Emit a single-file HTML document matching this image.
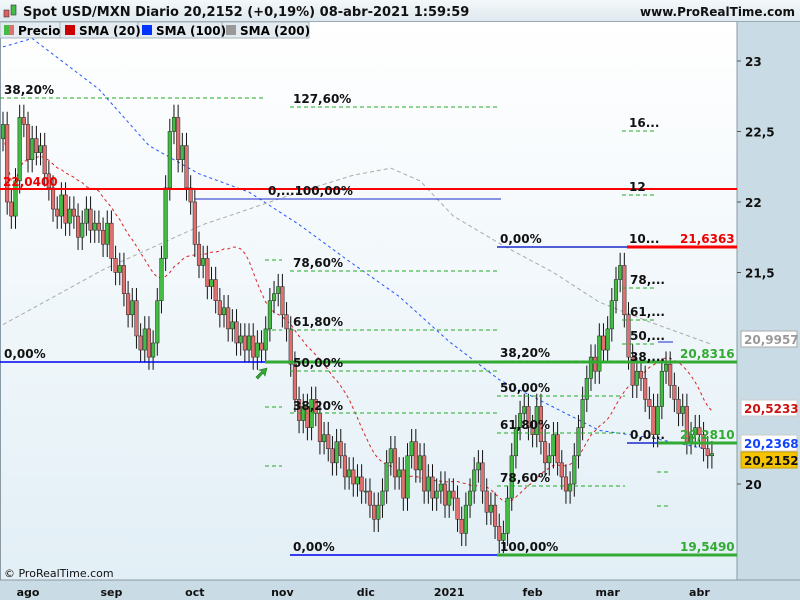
<!DOCTYPE html>
<html><head><meta charset="utf-8"><style>
body{margin:0;width:800px;height:600px;overflow:hidden;font-family:"DejaVu Sans","Liberation Sans",sans-serif;background:#fff}
svg{display:block}
text{font-family:"DejaVu Sans","Liberation Sans",sans-serif}
</style></head><body>
<svg id="chart" width="800" height="600" xmlns="http://www.w3.org/2000/svg">
<defs>
<linearGradient id="bg" x1="0" y1="0" x2="0" y2="1"><stop offset="0" stop-color="#ffffff"/><stop offset="1" stop-color="#e2eff6"/></linearGradient>
<linearGradient id="tb" x1="0" y1="0" x2="0" y2="1"><stop offset="0" stop-color="#f4f8fa"/><stop offset="1" stop-color="#dde8ee"/></linearGradient>
</defs>
<rect x="0" y="22" width="737" height="558" fill="url(#bg)"/>
<rect x="737" y="22" width="63" height="578" fill="#c9dbe4"/>
<rect x="0" y="580" width="800" height="20" fill="#c9dbe4"/>
<line x1="737" y1="22" x2="737" y2="580" stroke="#8a9aa4"/>
<line x1="0" y1="580" x2="800" y2="580" stroke="#8a9aa4"/>
<line x1="0.5" y1="22" x2="0.5" y2="580" stroke="#8a9aa4"/>
<g id="sma"></g>
<g id="candles"></g>
<g id="fib"></g>
<g id="axis"></g>
<rect x="0" y="0" width="800" height="22" fill="url(#tb)"/>
<line x1="0" y1="21.5" x2="800" y2="21.5" stroke="#9aaab4"/>
<g><rect x="4" y="10" width="5" height="7" fill="#e06060" stroke="#333" stroke-width="0.6"/><rect x="11" y="5" width="5" height="10" fill="#44bb44" stroke="#333" stroke-width="0.6"/></g>
<text x="23" y="16" font-size="13" font-weight="bold" fill="#111">Spot USD/MXN Diario 20,2152 (+0,19%) 08-abr-2021 1:59:59</text>
<text x="795" y="16" font-size="12" font-weight="bold" fill="#111" text-anchor="end">www.ProRealTime.com</text>
<g>
<rect x="0" y="22" width="309" height="16" fill="#e3ebf0" stroke="#a8b6be"/>
<line x1="60" y1="22" x2="60" y2="38" stroke="#a8b6be"/><line x1="138" y1="22" x2="138" y2="38" stroke="#a8b6be"/><line x1="222" y1="22" x2="222" y2="38" stroke="#a8b6be"/>
<g><rect x="4" y="25" width="5" height="10" fill="#44bb44"/><rect x="9" y="25" width="5" height="10" fill="#e07070"/><text x="18" y="35" font-size="12" font-weight="bold">Precio</text></g>
<g><rect x="65" y="25" width="10" height="10" fill="#cc0000"/><text x="79" y="35" font-size="12" font-weight="bold">SMA (20)</text></g>
<g><rect x="142" y="25" width="10" height="10" fill="#0033ff"/><text x="156" y="35" font-size="12" font-weight="bold">SMA (100)</text></g>
<g><rect x="226" y="25" width="10" height="10" fill="#999"/><text x="240" y="35" font-size="12" font-weight="bold">SMA (200)</text></g>
</g>
<text x="4" y="577" font-size="11" fill="#111">© ProRealTime.com</text>
</svg>
<script>
const closes=[
22.55,22.0,21.9,22.15,22.6,22.55,22.3,22.45,22.35,22.4,22.2,22.1,21.95,21.9,22.05,21.85,21.95,21.9,21.75,21.85,21.95,21.8,21.85,
21.8,21.7,21.85,21.6,21.5,21.55,21.35,21.2,21.3,21.05,20.95,21.1,20.9,21.0,21.3,21.6,22.1,22.5,22.6,22.3,22.4,22.1,
22.0,21.7,21.55,21.6,21.4,21.45,21.3,21.2,21.25,21.1,21.15,21.0,21.05,20.95,21.05,20.9,21.0,20.95,21.1,21.3,21.35,
21.4,21.2,21.1,20.85,20.6,20.45,20.55,20.4,20.6,20.5,20.3,20.35,20.25,20.15,20.3,20.2,20.05,20.1,20.0,20.05,19.95,19.95,
19.85,19.75,19.85,19.95,20.15,20.25,20.05,20.1,19.9,20.2,20.3,20.1,20.2,19.95,20.05,19.9,19.95,20.0,19.85,19.95,
19.9,19.75,19.65,19.85,19.95,20.1,20.15,19.95,19.8,19.85,19.7,19.6,19.65,19.9,20.2,20.4,20.5,
20.55,20.4,20.35,20.55,20.3,20.15,20.2,20.35,20.15,20.05,19.95,20.0,20.2,20.4,20.6,20.75,20.9,20.8,21.05,20.95,
21.1,21.3,21.45,21.55,21.2,20.9,20.7,20.8,20.75,20.6,20.55,20.35,20.55,20.8,20.85,20.7,20.6,20.5,20.55,20.3,20.35,
20.4,20.35,20.25,20.2,20.2152];
const sma100Idx=[0,7,23,35,47,59,71,83,95,107,119,131,143,155,170];
const sma100Val=[23.1,23.16,22.8,22.4,22.2,22.07,21.84,21.58,21.33,21.01,20.74,20.56,20.38,20.33,20.24];
const sma200Idx=[0,24,48,72,84,93,100,108,120,132,143,155,170];
const sma200Val=[21.13,21.52,21.84,22.08,22.19,22.24,22.15,21.9,21.69,21.5,21.29,21.15,20.99];
const priceTicks=[20,21.5,22,22.5,23];
const priceTickLabels=["20","21,5","22","22,5","23"];
const months=["ago","sep","oct","nov","dic","2021","feb","mar","abr"];
const monthIdx=[6,26,46,67,87,107,127,145,167];

const X=i=>3+i*4.17;
const Y=v=>484-(v-20)*141;
const NS="http://www.w3.org/2000/svg";
function mk(tag,attrs,parent,txt){const e=document.createElementNS(NS,tag);for(const k in attrs)e.setAttribute(k,attrs[k]);if(txt!==undefined)e.textContent=txt;parent.appendChild(e);return e;}
const gS=document.getElementById('sma'),gC=document.getElementById('candles'),gF=document.getElementById('fib'),gA=document.getElementById('axis');

let p20=[];
for(let i=0;i<closes.length;i++){const s=Math.max(0,i-19);let t=0;for(let j=s;j<=i;j++)t+=closes[j];p20.push(X(i).toFixed(1)+','+Y(t/(i-s+1)).toFixed(1));}
const l20=mk('polyline',{points:p20.join(' '),fill:'none',stroke:'#dd2222','stroke-width':1,'stroke-dasharray':'3,3'},gS);


const l100=mk('polyline',{points:sma100Idx.map((d,k)=>X(d)+','+Y(sma100Val[k])).join(' '),fill:'none',stroke:'#2255ff','stroke-width':1,'stroke-dasharray':'3,3'},gS);


const l200=mk('polyline',{points:sma200Idx.map((d,k)=>X(d)+','+Y(sma200Val[k])).join(' '),fill:'none',stroke:'#aaaaaa','stroke-width':1,'stroke-dasharray':'4,3'},gS);



for(let i=0;i<closes.length;i++){
  const o=i?closes[i-1]:22.45,c=closes[i];
  const hi=Math.max(o,c)+0.09,lo=Math.min(o,c)-0.09;
  const x=X(i);
  const g=mk('g',{},gC);
  
  
  mk('line',{x1:x,x2:x,y1:Y(hi),y2:Y(lo),stroke:'#111','stroke-width':1},g);
  const top=Y(Math.max(o,c)),h=Math.max(1,Y(Math.min(o,c))-top);
  mk('rect',{x:x-1.8,y:top,width:3.6,height:h,fill:c>=o?'#44bb44':'#e07070',stroke:'#222','stroke-width':0.5},g);
}

function hl(x1,x2,y,col,w,dash,name){const l=mk('line',{x1,x2,y1:y,y2:y,stroke:col,'stroke-width':w},gF);if(dash)l.setAttribute('stroke-dasharray',dash);}
function tx(x,y,s,col,name){const t=mk('text',{x,y,'font-size':12,'font-weight':'bold',fill:col},gF,s);}
const G='#22aa22',GD='4,3';
hl(0,265,98,G,1,GD,'fib-382-a');tx(4,94,'38,20%','#111','fib-label');
hl(290,500,107,G,1,GD,'fib-1276');tx(293,103,'127,60%','#111','fib-label');
hl(0,737,189,'#ff0000',2,null,'level-22-04');tx(3,186,'22,0400','#ee0000','level-label');
hl(195,501,199,'#1a2acc',1,null,'fib-100');tx(268,195,'0,...100,00%','#111','fib-label');
hl(290,500,271,G,1,GD,'fib-786');tx(293,267,'78,60%','#111','fib-label');
hl(290,500,330,G,1,GD,'fib-618');tx(293,326,'61,80%','#111','fib-label');
hl(0,265,362,'#0000ee',1.5,null,'fib-0-a');tx(4,358,'0,00%','#111','fib-label');
hl(265,737,362,'#33aa33',3,null,'level-20-83');tx(680,358,'20,8316','#33aa33','level-label');
hl(290,500,371,G,1,GD,'fib-50');tx(293,367,'50,00%','#111','fib-label');
hl(290,500,413,G,1,GD,'fib-382-b');tx(293,410,'38,20%','#111','fib-label');
[260,330,407,466].forEach(y=>hl(265,282,y,G,1,GD,'fib-tick'));
hl(290,497,555,'#0000ee',1.5,null,'fib-0-b');tx(293,551,'0,00%','#111','fib-label');
hl(497,737,555,'#33aa33',3,null,'level-19-55');tx(680,551,'19,5490','#33aa33','level-label');tx(500,551,'100,00%','#111','fib-label');
hl(497,627,247,'#1a2acc',1.5,null,'fib-0-c');tx(500,243,'0,00%','#111','fib-label');
hl(627,737,247,'#ff0000',3,null,'level-21-63');tx(680,243,'21,6363','#ee0000','level-label');tx(629,243,'10...','#111','fib-label');
hl(497,625,361,G,1,GD,'fib-382-c');tx(500,357,'38,20%','#111','fib-label');
hl(497,625,396,G,1,GD,'fib-50-c');tx(500,392,'50,00%','#111','fib-label');
hl(497,625,433,G,1,GD,'fib-618-c');tx(500,429,'61,80%','#111','fib-label');
hl(497,625,486,G,1,GD,'fib-786-c');tx(500,482,'78,60%','#111','fib-label');
hl(622,655,131,G,1,GD,'fib-16');tx(629,127,'16...','#111','fib-label');
hl(622,655,195,G,1,GD,'fib-12');tx(629,191,'12','#111','fib-label');
hl(622,655,288,G,1,GD,'fib-78');tx(630,284,'78,...','#111','fib-label');
hl(622,655,320,G,1,GD,'fib-61');tx(630,316,'61,...','#111','fib-label');
hl(622,655,344,G,1,GD,'fib-50-d');tx(630,340,'50,...','#111','fib-label');tx(630,361,'38,...','#111','fib-label');
hl(658,673,342,'#1a2acc',1,null,'fib-small');
hl(627,660,443,'#1a2acc',1.5,null,'fib-0-d');tx(630,439,'0,0...','#111','fib-label');
hl(658,737,443,'#33aa33',3,null,'level-20-28');tx(680,439,'20,2810','#33aa33','level-label');
hl(657,668,472,G,1,GD,'fib-tick');hl(657,668,506,G,1,GD,'fib-tick');
const arr=mk('polygon',{points:'256,377 262,371 259,370 267,368 265,376 263,373 258,379',fill:'#33aa33',stroke:'#1f7a1f','stroke-width':0.6},gF);



priceTicks.forEach((v,k)=>{const y=Y(v);mk('line',{x1:737,x2:741,y1:y,y2:y,stroke:'#555'},gA);
 const t=mk('text',{x:745,y:y+5,'font-size':12,'font-weight':'bold',fill:'#111'},gA,priceTickLabels[k]);
 
 });
months.forEach((m,k)=>{const t=mk('text',{x:X(monthIdx[k]),y:596,'font-size':11,'font-weight':'bold',fill:'#111','text-anchor':'middle'},gA,m);
 
 });
function box(y,txt,col,bg,bc,name){const g=mk('g',{},gA);
 mk('rect',{x:741,y:y-8,width:56,height:16,fill:bg,stroke:bc},g);mk('text',{x:744,y:y+5,'font-size':12,'font-weight':'bold',fill:col},g,txt);}
box(339,'20,9957','#999','#fff','#aaa','sma200-value-box');
box(408,'20,5233','#cc1111','#fff','#ccc','sma20-value-box');
box(443,'20,2368','#1144ff','#fff','#ccc','sma100-value-box');
box(460,'20,2152','#111','#f5c400','#c9a000','last-price-box');
</script>
</body></html>
